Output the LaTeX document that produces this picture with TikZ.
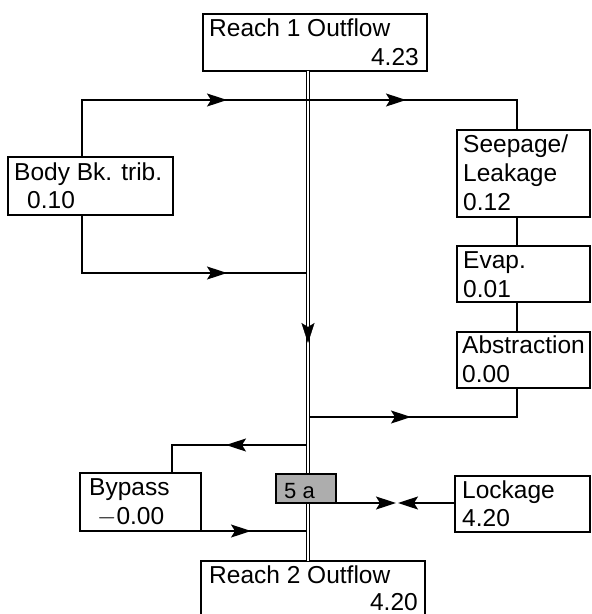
\documentclass[tikz,border=0pt]{standalone}
\usepackage{fontspec}
\setmainfont{Liberation Sans}
\usetikzlibrary{arrows.meta,decorations.markings}
\begin{document}
\begin{tikzpicture}[x=1pt,y=-1pt,
  box/.style={draw, line width=1.2pt, anchor=north west, inner sep=0pt, outer sep=0pt},
  txt/.style={anchor=base west, inner sep=0pt, font=\fontsize{24.5}{29}\selectfont},
  txtr/.style={txt, anchor=base east},
  flow/.style={line width=1.4pt},
  mytip/.tip={Stealth[length=20pt,width=13pt,inset=4pt]},
  arr/.style={postaction={decorate}, decoration={markings, mark=at position #1 with {\arrow{mytip}}}},
  mainline/.style={line width=1.2pt, double, double distance=2pt},
]
\useasboundingbox (0,0) rectangle (592,614);
\clip (0,0) rectangle (592,614);

% boxes
\node[box, minimum width=224pt, minimum height=57pt] (r1) at (203,14) {};
\node[box, minimum width=165pt, minimum height=58pt] (bb) at (8,157) {};
\node[box, minimum width=133pt, minimum height=87pt] (sp) at (457,130) {};
\node[box, minimum width=133pt, minimum height=56pt] (ev) at (457,246) {};
\node[box, minimum width=133pt, minimum height=56pt] (ab) at (457,332) {};
\node[box, minimum width=121pt, minimum height=58pt] (bp) at (80,473) {};
\node[box, minimum width=135pt, minimum height=56pt] (lk) at (455,476) {};
\node[box, minimum width=224pt, minimum height=70pt] (r2) at (201,561) {};

% guide coordinates
\coordinate (mx) at (308,0);
\coordinate (lx) at (82,0);
\coordinate (rx) at (517,0);
\coordinate (bx) at (172,0);
\coordinate (yt) at (0,100);
\coordinate (yb) at (0,273);
\coordinate (ya) at (0,417);
\coordinate (yp) at (0,445);
\coordinate (yq) at (0,531);
\coordinate (lm1) at (396,0);
\coordinate (lm2) at (398,0);

% main channel
\draw[mainline] (r1.south -| mx) -- (r2.north -| mx);
\path[arr=272pt] (r1.south -| mx) -- (r2.north -| mx);

% flows
\draw[flow, postaction={decorate}, decoration={markings,
   mark=at position 202pt with {\arrow{mytip}},
   mark=at position 381pt with {\arrow{mytip}}}]
  (bb.north -| lx) -- (lx |- yt) -- (rx |- yt) -- (sp.north -| rx);
\draw[flow, arr=203pt] (bb.south -| lx) -- (lx |- yb) -- ([xshift=-2pt]mx |- yb);
\draw[flow] (sp.south -| rx) -- (ev.north -| rx);
\draw[flow] (ev.south -| rx) -- (ab.north -| rx);
\draw[flow, arr=101pt] ([xshift=2pt]mx |- ya) -- (rx |- ya) -- (ab.south -| rx);
\draw[flow, arr=80pt] ([xshift=-2pt]mx |- yp) -- (bx |- yp) -- (bp.north -| bx);
\draw[flow, arr=50pt] (bp.south east) -- ([xshift=-2pt]mx |- yq);

% node 5a
\node[box, fill=black!32, minimum width=60pt, minimum height=29pt] (fa) at (276,474) {};
\node[anchor=base west, inner sep=0pt, font=\fontsize{22}{26}\selectfont] (fat) at (284,498) {5 a};
\draw[flow, -{mytip}] (fa.south east) -- (lm1 |- fa.south east);
\draw[flow, -{mytip}] (lk.west |- fa.south east) -- (lm2 |- fa.south east);

% texts
\node[txt] (r1a) at (209,36) {Reach 1 Outflow};
\node[txtr] (r1b) at (419,65) {4.23};
\node[txt] (bba) at (14,180) {Body Bk. trib.};
\node[txt] (bbb) at (27,208) {0.10};
\node[txt] (spa) at (463,152) {Seepage/};
\node[txt] (spb) at (463,181) {Leakage};
\node[txt] (spc) at (463,210) {0.12};
\node[txt] (eva) at (463,268) {Evap.};
\node[txt] (evb) at (463,297) {0.01};
\node[txt] (aba) at (462,353) {Abstraction};
\node[txt] (abb) at (462,382) {0.00};
\node[txt] (bpa) at (89,495) {Bypass};
\node[txt] (bpb) at (97,524) {$-$0.00};
\node[txt] (lka) at (462,498) {Lockage};
\node[txt] (lkb) at (462,526) {4.20};
\node[txt] (r2a) at (209,583) {Reach 2 Outflow};
\node[txtr] (r2b) at (418,610) {4.20};
\end{tikzpicture}
\end{document}
